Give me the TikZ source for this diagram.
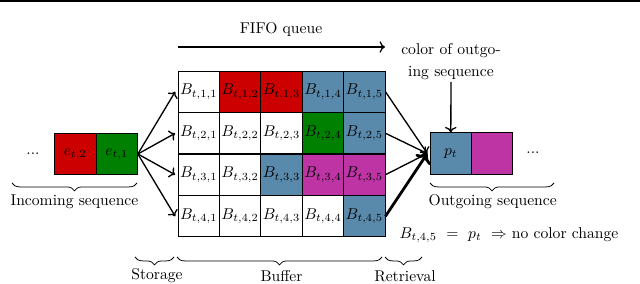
\documentclass[tikz,border=0pt]{standalone}
\usetikzlibrary{decorations.pathreplacing,arrows.meta}
\definecolor{cred}{RGB}{204,0,0}
\definecolor{cgreen}{RGB}{0,128,0}
\definecolor{cblue}{RGB}{90,138,171}
\definecolor{cmag}{RGB}{190,52,165}
\begin{document}
\begin{tikzpicture}[x=0.64pt,y=-0.64pt,
  cell/.style={draw,line width=0.6pt,minimum width=26.5pt,minimum height=26.5pt,inner sep=0pt},
  arr/.style={->,line width=0.85pt},
  brc/.style={decorate,decoration={brace,mirror,amplitude=5pt},line width=0.5pt},
  lbl/.style={inner sep=1pt}]
\useasboundingbox (0,0) rectangle (640,284);
\fill (0,0) rectangle (640,2.5);
% buffer grid
\foreach \r/\c/\col in {1/1/white,1/2/cred,1/3/cred,1/4/cblue,1/5/cblue,
  2/1/white,2/2/white,2/3/white,2/4/cgreen,2/5/cblue,
  3/1/white,3/2/white,3/3/cblue,3/4/cmag,3/5/cmag,
  4/1/white,4/2/white,4/3/white,4/4/white,4/5/cblue}
  \node[cell,fill=\col] (c\r\c) at ({178+41.4*(\c-0.5)},{71+41.5*(\r-0.5)}) {$B_{t,\r,\c}$};
% incoming
\node[cell,fill=cred] (e2) at (75.3,154) {$e_{t,2}$};
\node[cell,fill=cgreen] (e1) at (116.7,154) {$e_{t,1}$};
\node[lbl] (din) at (33,154) {...};
\foreach \r in {1,...,4}
  \draw[arr] (e1.east) -- ([xshift=-1.5pt]c\r1.west);
% outgoing
\node[cell,fill=cblue] (p) at (450.8,153.5) {$p_t$};
\node[cell,fill=cmag] (q) at (492.2,153.5) {};
\node[lbl] (dout) at (533,153) {...};
\coordinate (tgt) at ([xshift=-1.5pt]p.west);
\foreach \r in {1,2,3}
  \draw[arr] (c\r5.east) -- (tgt);
\draw[arr,line width=1.8pt] (c45.east) -- (tgt);
% color text
\node[lbl,align=center] (ctxt) at (451,62) {color of outgo-\\[2pt]ing sequence};
\draw[arr] (ctxt.south) -- (p.north);
% equation
\node[lbl] (eq) at (509,235) {$B_{t,4,5}\ =\ p_t\ \Rightarrow$ no color change};
% FIFO
\node[lbl] (fifo) at (281,30) {FIFO queue};
\coordinate (fa) at (178,47);
\coordinate (fb) at (385,47);
\draw[arr] (fa) -- (fb);
% braces
\coordinate (ib1) at (12,183); \coordinate (ib2) at (137,183);
\draw[brc] (ib1) -- (ib2);
\node[lbl] (inc) at (74.5,202) {Incoming sequence};
\coordinate (ob1) at (430,183); \coordinate (ob2) at (554,183);
\draw[brc] (ob1) -- (ob2);
\node[lbl] (outg) at (492.7,202) {Outgoing sequence};
\coordinate (sb1) at (135,257); \coordinate (sb2) at (174,257);
\draw[brc] (sb1) -- (sb2);
\node[lbl] (stor) at (157,276) {Storage};
\coordinate (bb1) at (177,257); \coordinate (bb2) at (382,257);
\draw[brc] (bb1) -- (bb2);
\node[lbl] (buf) at (281.5,276) {Buffer};
\coordinate (rb1) at (385,257); \coordinate (rb2) at (422,257);
\draw[brc] (rb1) -- (rb2);
\node[lbl] (retr) at (405,276) {Retrieval};
\end{tikzpicture}
\end{document}
